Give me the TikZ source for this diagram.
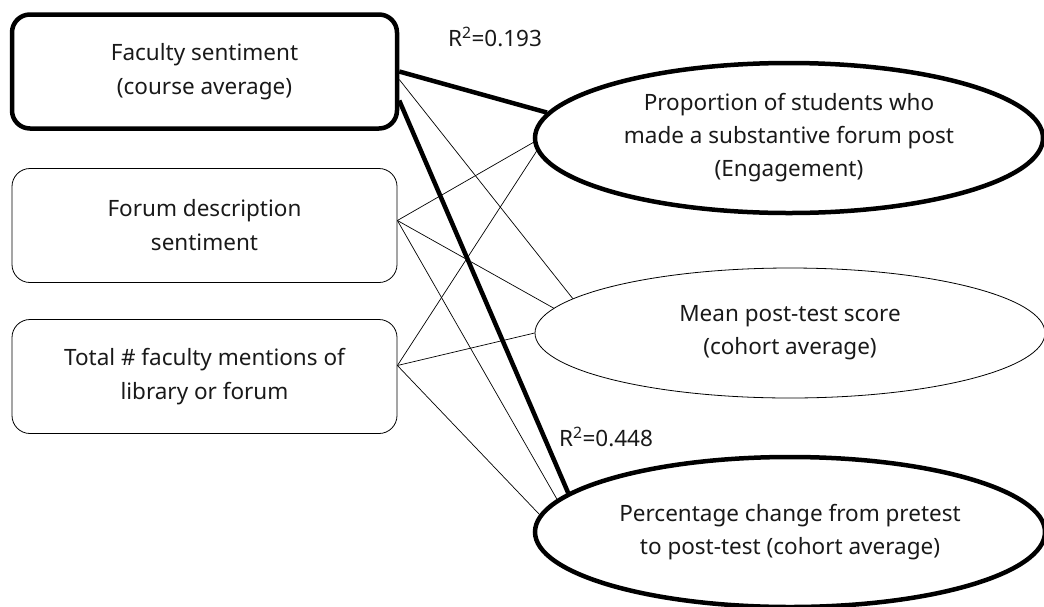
\documentclass[tikz,border=0pt]{standalone}
\usepackage{fontspec}
\setmainfont{Noto Sans}
\usetikzlibrary{shapes.geometric}

\begin{document}
\begin{tikzpicture}[x=1pt,y=-1pt,
  box/.style={draw,rounded corners=18pt,minimum width=385pt,minimum height=114pt,
    align=center,line width=0.8pt,text=black!90,font=\fontsize{22.5}{34}\selectfont},
  keybox/.style={box,line width=4.5pt},
  oval/.style={draw,ellipse,inner sep=0pt,align=center,line width=0.8pt,
    text=black!90,font=\fontsize{22.5}{33}\selectfont},
  keyoval/.style={oval,line width=4.5pt},
  link/.style={line width=0.7pt},
  keylink/.style={line width=4.5pt},
  rlabel/.style={text=black!90,font=\fontsize{22.5}{26}\selectfont}]
\useasboundingbox (0,0) rectangle (1044,606);

% predictors
\node[keybox] (fac) at (204.5,71.5) {Faculty sentiment\\(course average)};
\node[box] (desc) at (204.5,225.5) {Forum description\\sentiment};
\node[box] (ment) at (204.5,376.5) {Total \# faculty mentions of\\library or forum};

% outcomes
\node[keyoval,minimum width=508pt,minimum height=150pt] (eng) at (789,138)
  {Proportion of students who\\made a substantive forum post\\(Engagement)};
\node[oval,minimum width=510pt,minimum height=130pt] (post) at (790,333)
  {Mean post-test score\\(cohort average)};
\node[keyoval,minimum width=510pt,minimum height=150pt] (pct) at (790,532)
  {Percentage change from pretest\\to post-test (cohort average)};

% links
\draw[keylink] (fac.east) -- (eng.174);
\draw[link] ([yshift=-8pt]fac.east) -- (post.171);
\draw[keylink] ([yshift=-29pt]fac.east) -- (pct.170);
\draw[link] ([yshift=5pt]desc.east) -- (eng.181);
\draw[link] ([yshift=5pt]desc.east) -- (post.174);
\draw[link] ([yshift=5pt]desc.east) -- (pct.172);
\draw[link] ([yshift=11pt]ment.east) -- (eng.183);
\draw[link] ([yshift=11pt]ment.east) -- (post.west);
\draw[link] ([yshift=11pt]ment.east) -- (pct.176);

\node[rlabel] (r1) at (495,37) {R\textsuperscript{2}=0.193};
\node[rlabel] (r2) at (606,437) {R\textsuperscript{2}=0.448};
\end{tikzpicture}
\end{document}
